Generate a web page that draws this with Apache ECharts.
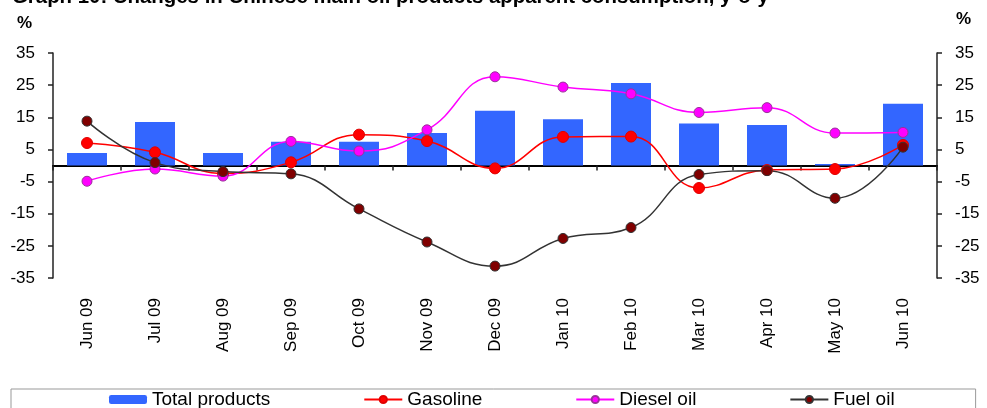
<!DOCTYPE html>
<html>
<head>
<meta charset="utf-8">
<script src="https://cdn.jsdelivr.net/npm/echarts@6/dist/echarts.min.js"></script>
<style>
html,body{margin:0;padding:0;background:#fff;}
#chart{width:987px;height:408px;}
</style>
</head>
<body>
<div id="chart"></div>
<script>
var titleText = 'Graph 10: Changes in Chinese main oil products apparent consumption, y-o-y';
var categories = ['Jun 09','Jul 09','Aug 09','Sep 09','Oct 09','Nov 09','Dec 09','Jan 10','Feb 10','Mar 10','Apr 10','May 10','Jun 10'];
var totalProducts = [3.9, 13.5, 3.9, 7.4, 7.4, 10.1, 17.0, 14.4, 25.7, 13.1, 12.6, 0.5, 19.2];
var gasoline = [7.0, 4.1, -2.5, 1.0, 9.6, 7.6, -0.9, 8.9, 9.0, -7.0, -1.4, -1.1, 6.4];
var dieselOil = [-4.9, -1.1, -3.3, 7.5, 4.5, 11.1, 27.6, 24.4, 22.3, 16.5, 18.0, 10.1, 10.3];
var fuelOil = [13.8, 0.9, -1.9, -2.6, -13.5, -23.8, -31.3, -22.7, -19.3, -2.8, -1.6, -10.2, 5.7];
var yMin = -35, yMax = 35, yInterval = 10;

var FONT = 'Liberation Sans, Arial, sans-serif';
var chart = echarts.init(document.getElementById('chart'), null, {renderer: 'canvas'});

function yAxisDef(pos) {
  return {
    type: 'value', position: pos, min: yMin, max: yMax, interval: yInterval,
    axisLine: {show: true, onZero: false, lineStyle: {color: '#222', width: 1.5}},
    axisTick: {show: true, inside: false, length: 5, lineStyle: {color: '#222', width: 1.5}},
    splitLine: {show: false},
    axisLabel: {show: true, margin: 18, color: '#000', fontSize: 17, fontFamily: FONT}
  };
}

var option = {
  animation: false,
  backgroundColor: '#fff',
  graphic: [
    {type: 'text', left: 12, top: -13, style: {text: titleText, font: 'bold 20.4px ' + FONT, fill: '#000'}},
    {type: 'text', left: 17, top: 15, style: {text: '%', font: 'bold 17px ' + FONT, fill: '#000'}},
    {type: 'text', left: 956, top: 11, style: {text: '%', font: 'bold 17px ' + FONT, fill: '#000'}}
  ],
  grid: {left: 53, right: 50, top: 53, bottom: 130, containLabel: false},
  legend: {
    left: 11, top: 389,
    padding: [1, 81, 12, 98],
    itemGap: 93, itemWidth: 38, itemHeight: 9,
    borderColor: '#999', borderWidth: 1,
    textStyle: {color: '#000', fontSize: 19, fontFamily: FONT},
    data: ['Total products', 'Gasoline', 'Diesel oil', 'Fuel oil']
  },
  xAxis: [
    {
      type: 'category', data: categories, position: 'bottom',
      axisLine: {show: false, onZero: false},
      axisTick: {show: false},
      splitLine: {show: false},
      axisLabel: {show: true, rotate: 90, margin: 20, color: '#000', fontSize: 17, fontFamily: FONT}
    },
    {
      type: 'category', data: categories, position: 'top',
      axisLine: {show: true, onZero: true, lineStyle: {color: '#000', width: 2}},
      axisTick: {show: true, inside: true, length: 5, lineStyle: {color: '#222', width: 1.5}},
      axisLabel: {show: false},
      splitLine: {show: false}
    }
  ],
  yAxis: [yAxisDef('left'), yAxisDef('right')],
  series: [
    {
      name: 'Total products', type: 'bar', xAxisIndex: 0, yAxisIndex: 0,
      data: totalProducts, barWidth: 40,
      itemStyle: {color: '#3366FF'}
    },
    {
      name: 'Gasoline', type: 'line', xAxisIndex: 0, yAxisIndex: 0,
      data: gasoline, smooth: 0.45, symbol: 'circle', symbolSize: 11,
      lineStyle: {color: '#FF0000', width: 1.5},
      itemStyle: {color: '#FF0000', borderColor: '#E00000', borderWidth: 1}
    },
    {
      name: 'Diesel oil', type: 'line', xAxisIndex: 0, yAxisIndex: 0,
      data: dieselOil, smooth: 0.45, symbol: 'circle', symbolSize: 10,
      lineStyle: {color: '#FF00FF', width: 1.5},
      itemStyle: {color: '#FF00FF', borderColor: '#993399', borderWidth: 1}
    },
    {
      name: 'Fuel oil', type: 'line', xAxisIndex: 0, yAxisIndex: 0,
      data: fuelOil, smooth: 0.45, symbol: 'circle', symbolSize: 10,
      lineStyle: {color: '#333333', width: 1.5},
      itemStyle: {color: '#800000', borderColor: '#333333', borderWidth: 1}
    }
  ]
};
chart.setOption(option);
</script>
</body>
</html>
